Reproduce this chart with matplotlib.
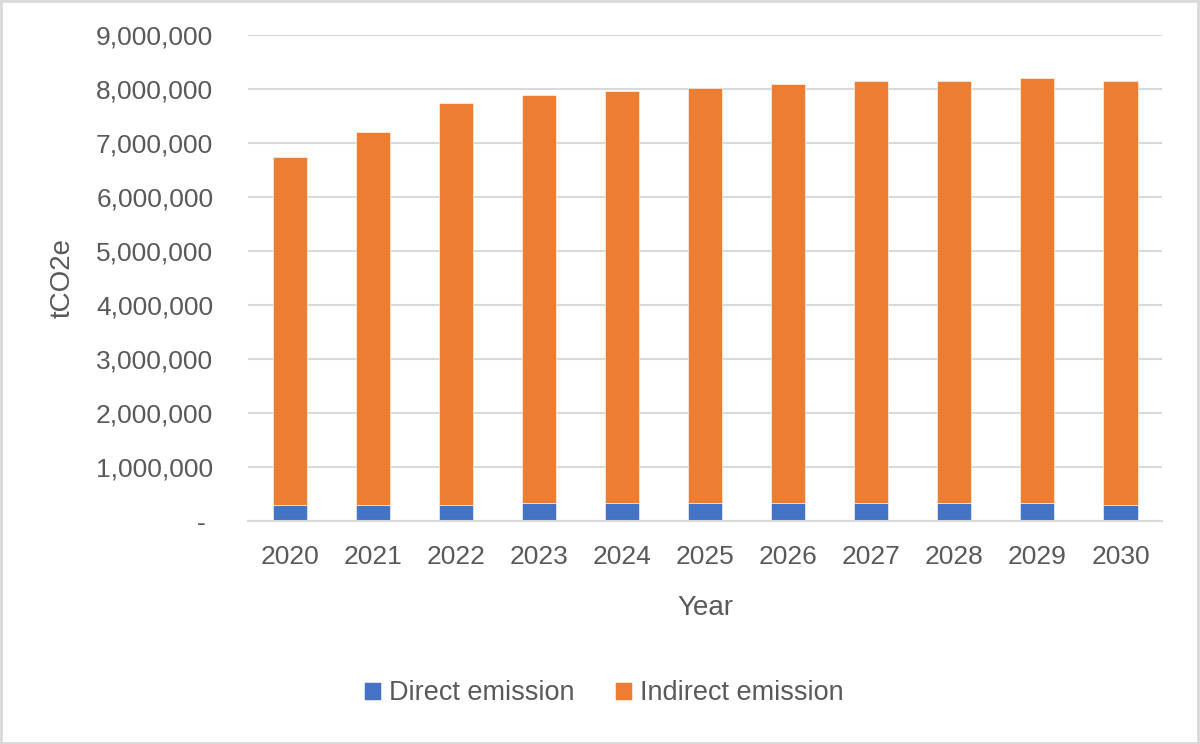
import matplotlib.pyplot as plt
import numpy as np
from matplotlib.patches import Rectangle
from matplotlib.ticker import FuncFormatter

plt.rcParams['font.family'] = ['Liberation Sans', 'DejaVu Sans']

# data (tCO2e)
years = ['2020', '2021', '2022', '2023', '2024', '2025', '2026', '2027', '2028', '2029', '2030']
direct = [290000, 290000, 290000, 330000, 330000, 330000, 330000, 330000, 330000, 330000, 290000]
total = [6740000, 7200000, 7740000, 7880000, 7970000, 8010000, 8100000, 8150000, 8150000, 8200000, 8150000]
indirect = [t - d for t, d in zip(total, direct)]

blue = '#4472C4'
orange = '#ED7D31'
grey_text = '#595959'
grid_col = '#D9D9D9'

fig = plt.figure(figsize=(12, 7.44), dpi=100)
ax = fig.add_axes([0.2067, 0.2997, 0.7617, 0.6533])

x = np.arange(len(years))
ax.bar(x, direct, width=0.41, color=blue, edgecolor='white', linewidth=0.4, label='Direct emission', zorder=3)
ax.bar(x, indirect, width=0.41, bottom=direct, color=orange, edgecolor='white', linewidth=0.4,
       label='Indirect emission', zorder=3)

ax.set_xlim(-0.5, len(years) - 0.5)
ax.set_ylim(0, 9000000)
ax.set_yticks(np.arange(0, 9000001, 1000000))
ax.yaxis.set_major_formatter(FuncFormatter(lambda v, p: '- ' if v == 0 else '{:,.0f}'.format(v)))
ax.set_xticks(x)
ax.set_xticklabels(years)

ax.grid(axis='y', color=grid_col, linewidth=1.5, zorder=0)
for s in ['top', 'right', 'left']:
    ax.spines[s].set_visible(False)
ax.spines['bottom'].set_color(grid_col)
ax.spines['bottom'].set_linewidth(1.5)
ax.spines['bottom'].set_zorder(4)

ax.tick_params(axis='y', length=0, pad=25, labelsize=19, labelcolor=grey_text)
ax.tick_params(axis='x', length=0, pad=17, labelsize=19, labelcolor=grey_text)

ax.set_ylabel('tCO2e', fontsize=20, color=grey_text)
ax.yaxis.set_label_coords(-0.189, 0.5)
ax.set_xlabel('Year', fontsize=20, color=grey_text)
ax.xaxis.set_label_coords(0.5, -0.152)

fig.legend(loc='center', bbox_to_anchor=(0.503, 0.068), ncol=2, frameon=False, fontsize=19.5,
           labelcolor=grey_text, handlelength=0.62, handleheight=0.62, handletextpad=0.3, columnspacing=1.5)

# light border round the whole chart
fig.patches.append(Rectangle((0.001, 0.002), 0.997, 0.996, transform=fig.transFigure,
                             fill=False, edgecolor=grid_col, linewidth=2))

fig.savefig('out.png', dpi=100)
